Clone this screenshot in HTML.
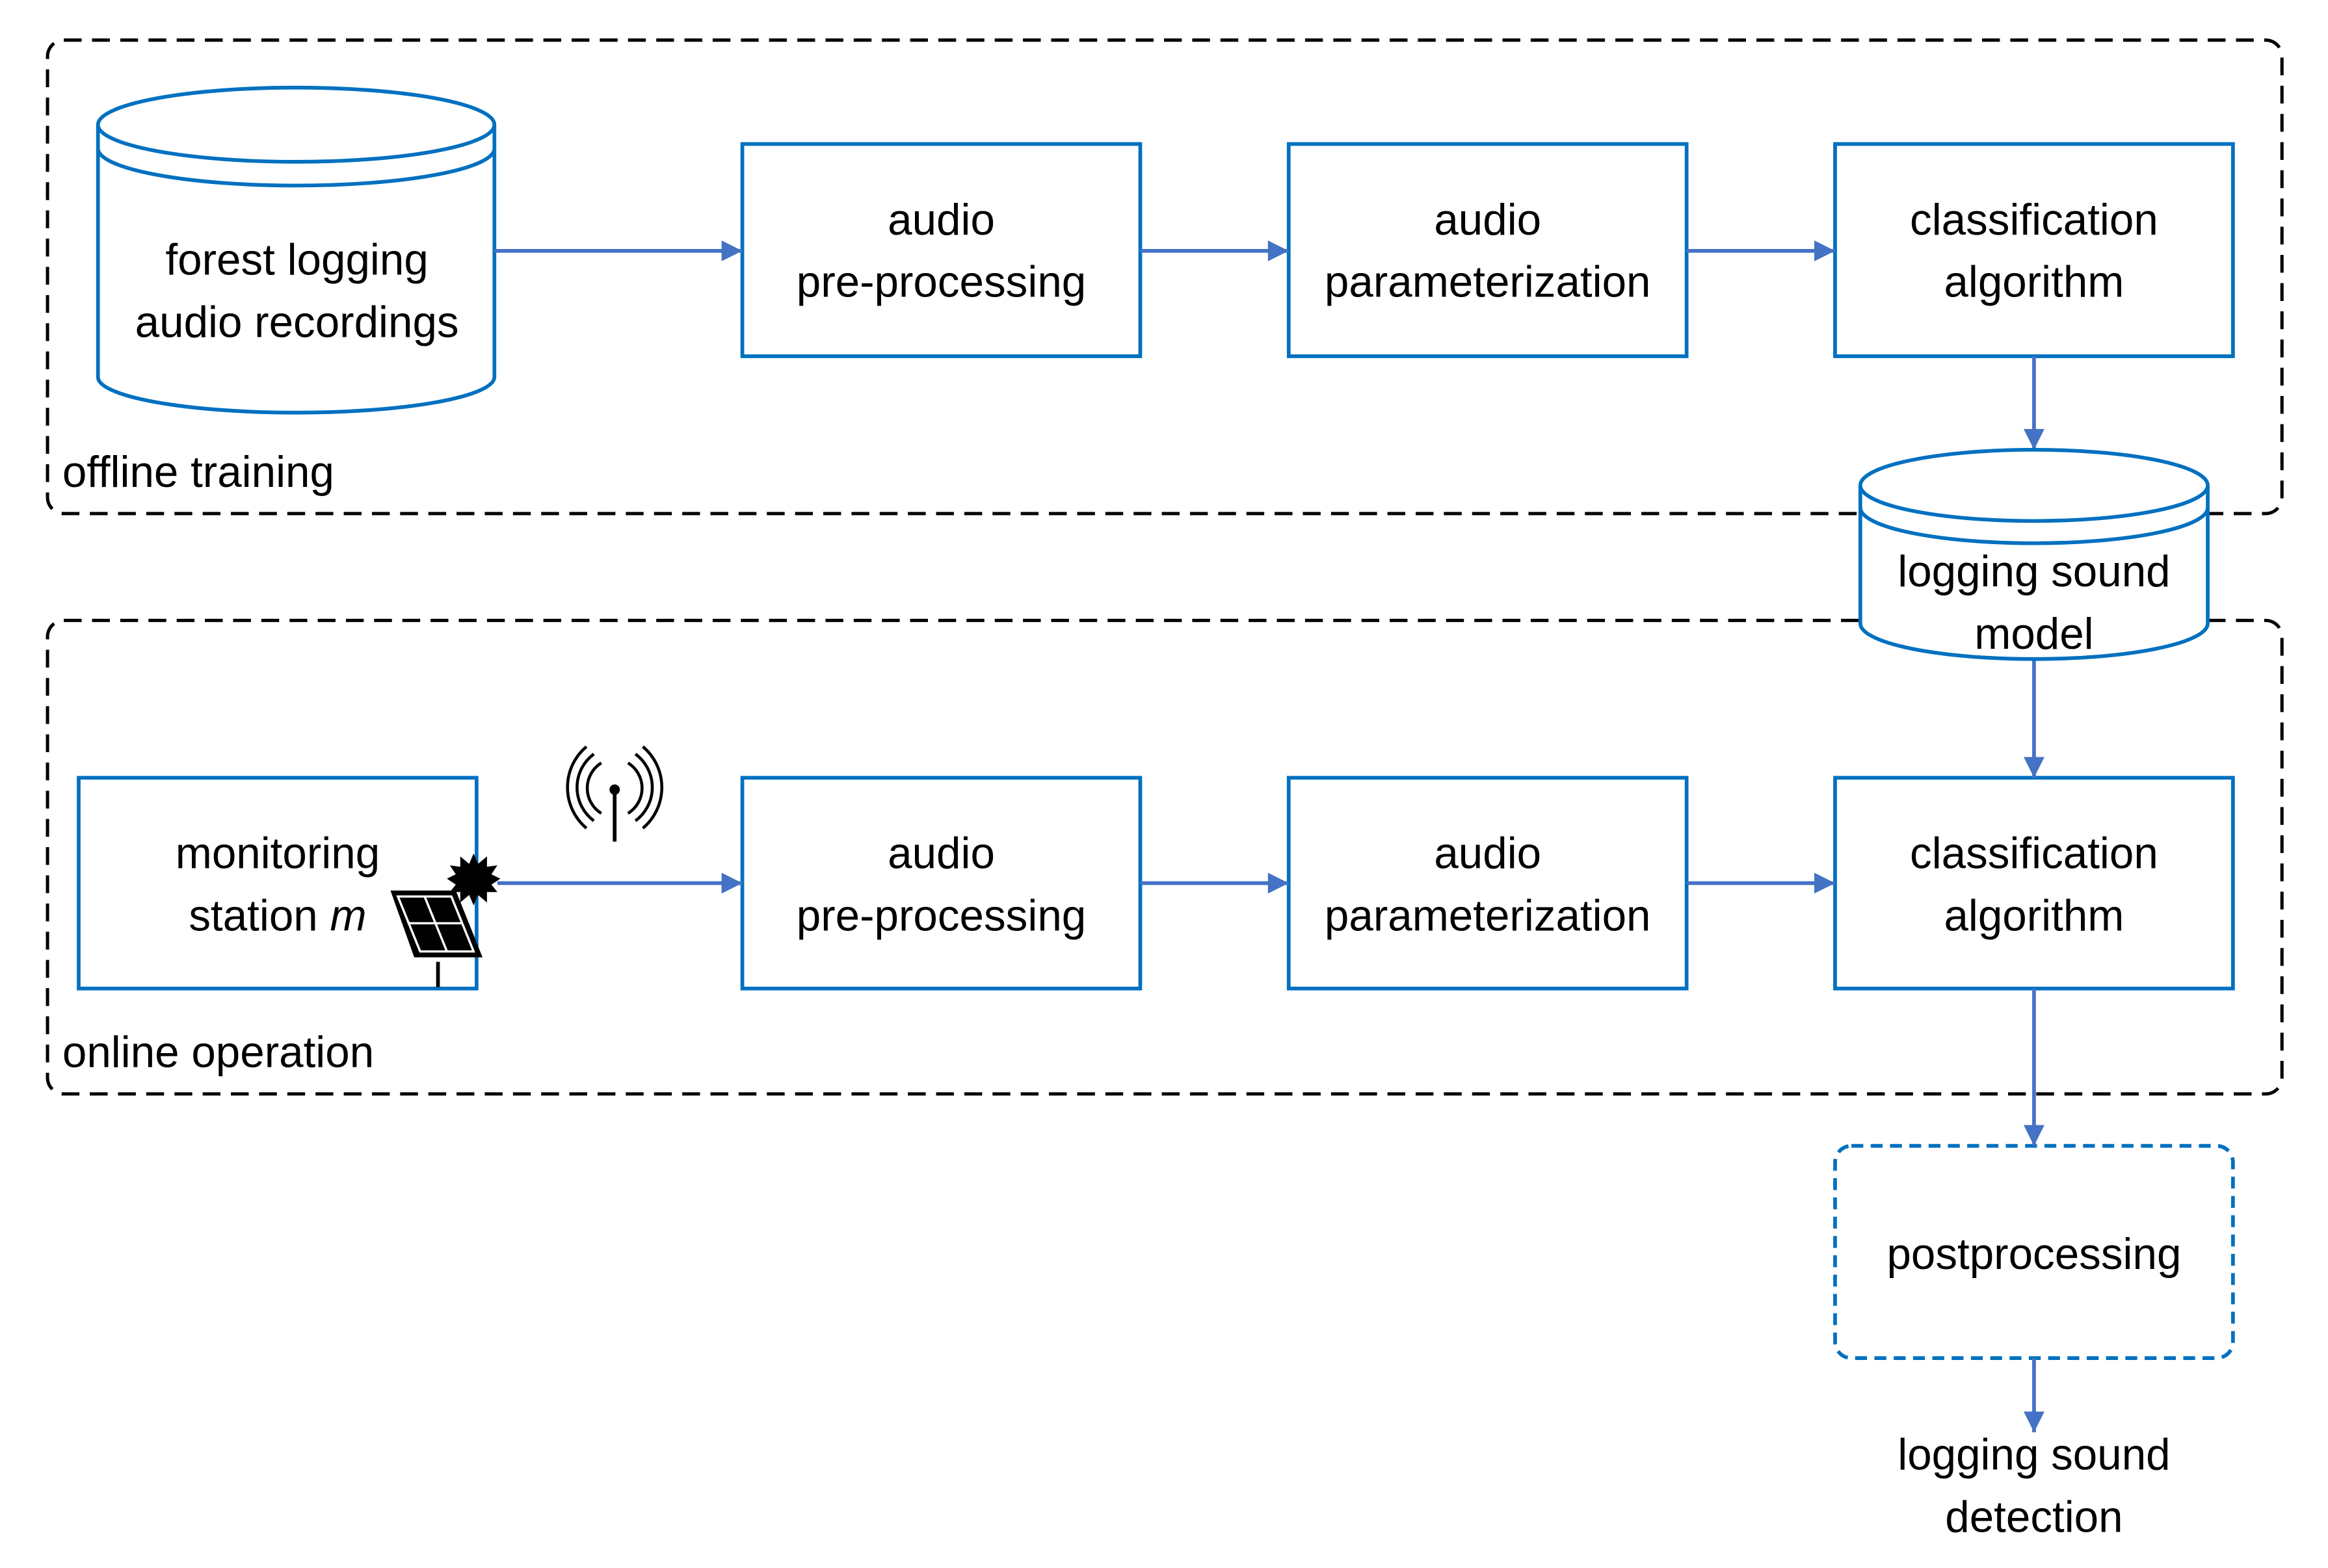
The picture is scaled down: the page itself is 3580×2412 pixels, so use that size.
<!DOCTYPE html>
<html><head><meta charset="utf-8"><style>html,body{margin:0;padding:0;background:#fff}svg{display:block}</style></head>
<body>
<svg width="3580" height="2412" viewBox="0 0 1568 1056.4" xmlns="http://www.w3.org/2000/svg" font-family="Liberation Sans, sans-serif" font-size="29.5" fill="#000">
<defs>
<marker id="b" viewBox="0 0 10 10" refX="10" refY="5" markerWidth="16" markerHeight="14" orient="auto" markerUnits="userSpaceOnUse"><path d="M0,0 L10,5 L0,10 z" fill="#4472C4"/></marker></defs>
<g fill="none" stroke="#000" stroke-width="2.2" stroke-dasharray="12,7">
<rect x="32" y="27" width="1505" height="319" rx="11"/>
<rect x="32" y="418" width="1505" height="319" rx="11"/>
</g>
<g fill="#fff" stroke="#0070C0" stroke-width="2.5">
<path d="M66,84 L66,254 A133.5,24 0 0 0 333,254 L333,84"/>
<ellipse cx="199.5" cy="84" rx="133.5" ry="25"/>
<path d="M66,100 A133.5,25 0 0 0 333,100" fill="none"/>
</g>
<text x="200" y="185" text-anchor="middle">forest logging</text>
<text x="200" y="227" text-anchor="middle">audio recordings</text>
<g fill="none" stroke="#0070C0" stroke-width="2.5">
<rect x="500" y="97" width="268" height="143"/>
<rect x="868" y="97" width="268" height="143"/>
<rect x="1236" y="97" width="268" height="143"/>
<rect x="53" y="524" width="268" height="142"/>
<rect x="500" y="524" width="268" height="142"/>
<rect x="868" y="524" width="268" height="142"/>
<rect x="1236" y="524" width="268" height="142"/>
<rect x="1236" y="772" width="268" height="143" rx="11" stroke-dasharray="8,5"/>
</g>
<g stroke="#4472C4" stroke-width="2.5" marker-end="url(#b)">
<line x1="333" y1="169" x2="500" y2="169"/>
<line x1="768" y1="169" x2="868" y2="169"/>
<line x1="1136" y1="169" x2="1236" y2="169"/>
<line x1="1370" y1="240" x2="1370" y2="303"/>
<line x1="1370" y1="445" x2="1370" y2="524"/>
<line x1="335" y1="595" x2="500" y2="595"/>
<line x1="768" y1="595" x2="868" y2="595"/>
<line x1="1136" y1="595" x2="1236" y2="595"/>
<line x1="1370" y1="666" x2="1370" y2="772"/>
<line x1="1370" y1="915" x2="1370" y2="965"/>
</g>
<g fill="#fff" stroke="#0070C0" stroke-width="2.5">
<path d="M1253,327 L1253,420 A117,24 0 0 0 1487,420 L1487,327"/>
<ellipse cx="1370" cy="327" rx="117" ry="24"/>
<path d="M1253,342 A117,24 0 0 0 1487,342" fill="none"/>
</g>
<text x="1370" y="395" text-anchor="middle">logging sound</text>
<text x="1370" y="437" text-anchor="middle">model</text>
<g text-anchor="middle">
<text x="634" y="158">audio</text><text x="634" y="200">pre-processing</text>
<text x="1002" y="158">audio</text><text x="1002" y="200">parameterization</text>
<text x="1370" y="158">classification</text><text x="1370" y="200">algorithm</text>
<text x="634" y="585">audio</text><text x="634" y="627">pre-processing</text>
<text x="1002" y="585">audio</text><text x="1002" y="627">parameterization</text>
<text x="1370" y="585">classification</text><text x="1370" y="627">algorithm</text>
<text x="187" y="585">monitoring</text><text x="187" y="627">station <tspan font-style="italic">m</tspan></text>
<text x="1370" y="855">postprocessing</text>
<text x="1370" y="990">logging sound</text><text x="1370" y="1032">detection</text>
</g>
<text x="42" y="328">offline training</text>
<text x="42" y="719">online operation</text>
<polygon points="263,600 307,600 325,645 279,645" fill="#000"/>
<polygon points="268,604 304,604 319,641 283,641" fill="none" stroke="#fff" stroke-width="1.5"/>
<line x1="286" y1="604" x2="301" y2="641" stroke="#fff" stroke-width="1.5"/>
<line x1="275" y1="622" x2="311" y2="622" stroke="#fff" stroke-width="1.5"/>
<line x1="295" y1="648" x2="295" y2="665" stroke="#000" stroke-width="2.5"/>
<polygon fill="#000" points="319,575 322,582 328,577 328,584 335,583 331,589 337,592 331,596 335,601 328,601 328,608 322,603 319,610 316,603 310,608 310,601 303,601 307,596 301,592 307,589 303,583 310,584 310,577 316,582"/>
<circle cx="414" cy="532" r="3.5" fill="#000"/>
<line x1="414" y1="532" x2="414" y2="567" stroke="#000" stroke-width="2.5"/>
<g fill="none" stroke="#000" stroke-width="2">
<path d="M405,514 A20,20 0 0 0 405,548"/>
<path d="M400,508 A28,28 0 0 0 400,553"/>
<path d="M395,503 A36,36 0 0 0 395,558"/>
<path d="M423,514 A20,20 0 0 1 423,548"/>
<path d="M428,508 A28,28 0 0 1 428,553"/>
<path d="M433,503 A36,36 0 0 1 433,558"/>
</g>
</svg>
</body></html>
